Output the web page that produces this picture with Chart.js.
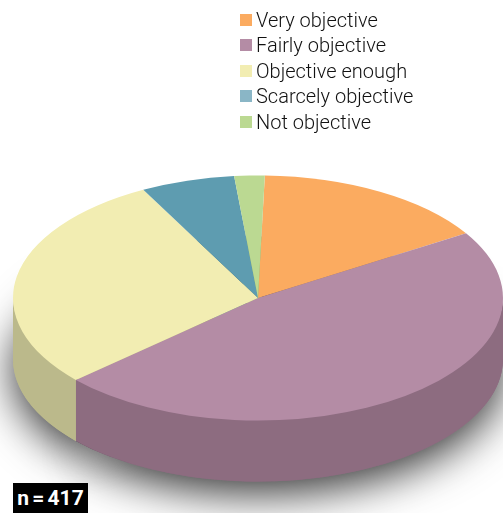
<!DOCTYPE html>
<html>
<head>
<meta charset="utf-8">
<title>Objectivity</title>
<script src="https://cdn.jsdelivr.net/npm/chart.js@4"></script>
<style>
    html, body { margin: 0; padding: 0; background: #fff; }
    #wrap { position: relative; width: 503px; height: 513px; overflow: hidden; font-family: Roboto, sans-serif; }
    canvas { position: absolute; left: 0; top: 0; }
    #legend { position: absolute; left: 240px; top: 7px; color: #111; font-size: 20px; font-weight: 300; }
    #legend div { display: flex; align-items: center; height: 25.5px; white-space: nowrap; }
    #legend span { display: block; width: 12px; height: 12px; margin-right: 4px; }
    #badge { position: absolute; left: 13px; top: 483px; width: 75px; height: 30px; line-height: 31px; background: #000; color: #fff; font-size: 21px; font-weight: 700; text-align: center; word-spacing: -2px; }
</style>
</head>
<body>
<div id="wrap">
    <canvas id="pieChart" width="503" height="513"></canvas>
    <div id="legend"></div>
    <div id="badge">n = 417</div>
</div>
<script>
const categories = ['Very objective', 'Fairly objective', 'Objective enough', 'Scarcely objective', 'Not objective'];
const shares = [15.7, 47.2, 28.9, 6.2, 2];
const topColors = ['#fbab60', '#b48ca5', '#f2edb2', '#5e9cb0', '#bbd992'];
const sideColors = ['#b98044', '#8d6c80', '#bbb98b', '#467888', '#8fa66f'];
const legendColors = ['#fbab60', '#b48ca5', '#f2edb2', '#8ab6c6', '#bbd992'];

// the pie is drawn flat by Chart.js, this plugin tilts it and adds the wall
const tiltPlugin = {
    id: 'tilt',
    beforeDatasetsDraw(chart) {
        const ctx = chart.ctx;
        const arcs = chart.getDatasetMeta(0).data;
        const cx = arcs[0].x, cy = arcs[0].y;
        const depth = 61;

        function flatten(dy) {
            ctx.translate(258, 298 + dy);
            ctx.scale(1, 0.5);
            ctx.translate(-cx, -cy);
        }

        // bottom face with the soft shadow under the pie
        arcs.forEach((arc, i) => {
            const opts = arc.options;
            arc.options = Object.create(opts);
            arc.options.backgroundColor = sideColors[i];
            ctx.save();
            ctx.shadowColor = 'rgba(0, 0, 0, 0.8)';
            ctx.shadowBlur = 44;
            ctx.shadowOffsetY = 12;
            flatten(depth);
            arc.draw(ctx);
            ctx.restore();
            arc.options = opts;
        });

        // wall strip of each slice, only the front half of the rim shows
        arcs.forEach((arc, i) => {
            const norm = a => ((a % (2 * Math.PI)) + 2 * Math.PI) % (2 * Math.PI);
            let start = norm(arc.startAngle);
            let end = start + (arc.endAngle - arc.startAngle);
            if (start > Math.PI) { start -= 2 * Math.PI; end -= 2 * Math.PI; }
            start = Math.max(start, 0);
            end = Math.min(end, Math.PI);
            if (end <= start) return;
            const r = arc.outerRadius;
            ctx.save();
            ctx.translate(258, 298);
            ctx.beginPath();
            ctx.ellipse(0, -2, r, r / 2, 0, start, end);
            ctx.ellipse(0, depth, r, r / 2, 0, end, start, true);
            ctx.closePath();
            ctx.fillStyle = sideColors[i];
            ctx.fill();
            ctx.restore();
        });

        ctx.save();
        flatten(0);
    },
    afterDatasetsDraw(chart) {
        chart.ctx.restore();
    }
};

new Chart(document.getElementById('pieChart').getContext('2d'), {
    type: 'pie',
    data: {
        labels: categories,
        datasets: [{
            data: shares,
            backgroundColor: topColors,
            borderWidth: 0,
            clip: false
        }]
    },
    options: {
        responsive: false,
        animation: false,
        rotation: 1.6,
        layout: { padding: { left: 13, right: 0, top: 12, bottom: 11 } },
        plugins: {
            legend: { display: false },
            tooltip: { enabled: false }
        }
    },
    plugins: [tiltPlugin]
});

const legendBox = document.getElementById('legend');
categories.forEach((name, i) => {
    const row = document.createElement('div');
    const swatch = document.createElement('span');
    swatch.style.backgroundColor = legendColors[i];
    row.appendChild(swatch);
    row.appendChild(document.createTextNode(name));
    legendBox.appendChild(row);
});
</script>
</body>
</html>
